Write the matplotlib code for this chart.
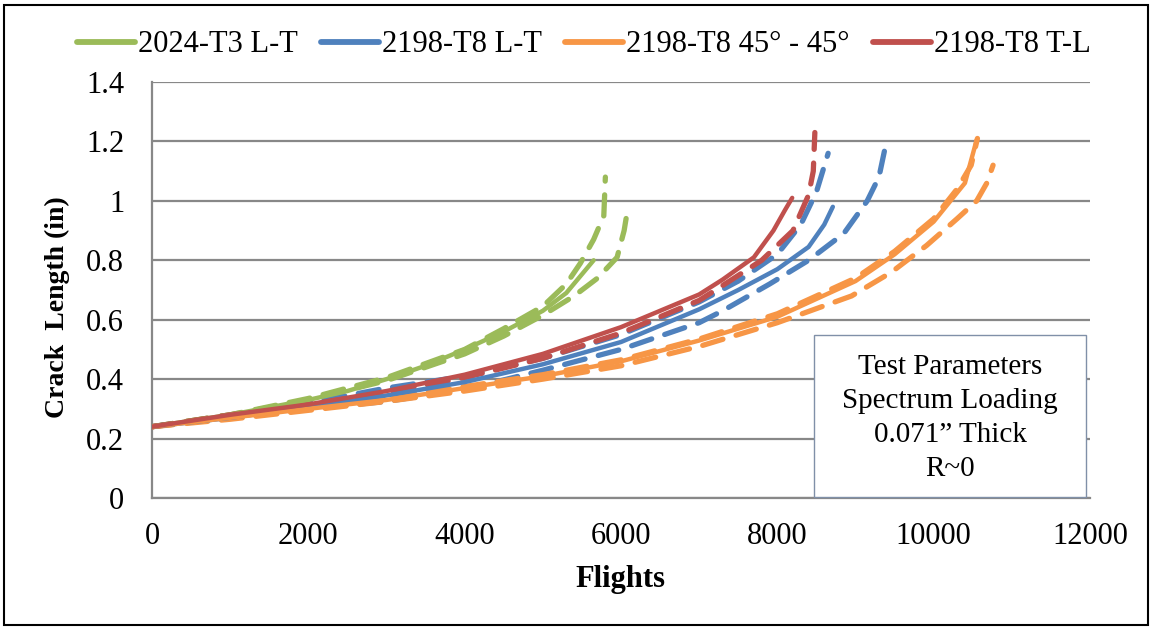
import matplotlib
matplotlib.use("Agg")
import matplotlib.pyplot as plt
from matplotlib.patches import Rectangle
from matplotlib.lines import Line2D

plt.rcParams['font.family'] = ['Liberation Serif', 'DejaVu Serif']

# ---------------- data ----------------
series_names = ["2024-T3 L-T", "2198-T8 L-T", "2198-T8 45\u00b0 - 45\u00b0", "2198-T8 T-L"]
colors = ["#9BBB59", "#4F81BD", "#F79646", "#C0504D"]

# 2024-T3 L-T
g_solid_x = [0, 500, 1000, 1500, 2000, 2500, 3000, 3500, 4000, 4500, 5000, 5300, 5650]
g_solid_y = [0.24, 0.26, 0.28, 0.305, 0.33, 0.36, 0.40, 0.445, 0.50, 0.56, 0.63, 0.69, 0.80]
g_dash1_x = [0, 1000, 2000, 3000, 4000, 4500, 5000, 5300, 5480, 5650, 5780, 5800]
g_dash1_y = [0.24, 0.28, 0.335, 0.405, 0.50, 0.57, 0.645, 0.72, 0.79, 0.87, 0.95, 1.08]
g_dash2_x = [0, 1000, 2000, 3000, 4000, 4500, 5000, 5400, 5700, 5950, 6040, 6090]
g_dash2_y = [0.24, 0.28, 0.33, 0.395, 0.485, 0.545, 0.615, 0.68, 0.74, 0.81, 0.90, 0.98]

# 2198-T8 L-T
b_solid_x = [0, 1000, 2000, 3000, 4000, 5000, 6000, 7000, 7500, 8000, 8400, 8600, 8710]
b_solid_y = [0.24, 0.27, 0.305, 0.345, 0.39, 0.45, 0.525, 0.635, 0.70, 0.77, 0.845, 0.92, 0.98]
b_dash1_x = [0, 1000, 2000, 3000, 4000, 5000, 6000, 7000, 7500, 8000, 8300, 8500, 8650]
b_dash1_y = [0.24, 0.275, 0.32, 0.37, 0.41, 0.47, 0.55, 0.66, 0.73, 0.82, 0.92, 1.03, 1.16]
b_dash2_x = [0, 1000, 2000, 3000, 4000, 5000, 6000, 7000, 7300, 7900, 8400, 8850, 9150, 9300, 9380]
b_dash2_y = [0.24, 0.27, 0.30, 0.325, 0.365, 0.43, 0.50, 0.59, 0.63, 0.72, 0.80, 0.89, 1.00, 1.08, 1.18]

# 2198-T8 45 - 45
o_solid_x = [0, 1000, 2000, 3000, 4000, 5000, 6000, 7000, 7500, 8000, 8500, 9000, 9500, 10000, 10400, 10550]
o_solid_y = [0.24, 0.27, 0.30, 0.33, 0.37, 0.41, 0.46, 0.53, 0.57, 0.61, 0.67, 0.73, 0.82, 0.93, 1.06, 1.205]
o_dash1_x = [0, 1000, 2000, 3000, 4000, 5000, 6000, 7000, 8000, 9000, 9500, 10000, 10300, 10480, 10560]
o_dash1_y = [0.24, 0.27, 0.30, 0.335, 0.375, 0.415, 0.465, 0.535, 0.62, 0.74, 0.83, 0.94, 1.04, 1.12, 1.21]
o_dash2_x = [0, 1000, 2000, 3000, 4000, 5000, 6000, 7000, 8000, 8950, 9460, 9910, 10300, 10550, 10680, 10760]
o_dash2_y = [0.24, 0.265, 0.295, 0.325, 0.36, 0.40, 0.445, 0.51, 0.59, 0.68, 0.76, 0.85, 0.94, 1.00, 1.06, 1.12]

# 2198-T8 T-L
r_solid_x = [0, 1000, 2000, 3000, 4000, 5000, 6000, 7000, 7300, 7700, 7950, 8100, 8190]
r_solid_y = [0.24, 0.28, 0.315, 0.36, 0.415, 0.485, 0.575, 0.685, 0.735, 0.81, 0.90, 0.97, 1.01]
r_dash1_x = [0, 1000, 2000, 3000, 4000, 5000, 6000, 7000, 7300, 7800, 8200, 8400, 8460, 8480]
r_dash1_y = [0.24, 0.28, 0.315, 0.355, 0.405, 0.47, 0.555, 0.665, 0.715, 0.80, 0.90, 1.02, 1.10, 1.23]

x_ticks = [0, 2000, 4000, 6000, 8000, 10000, 12000]
y_ticks = [0, 0.2, 0.4, 0.6, 0.8, 1.0, 1.2, 1.4]
y_tick_labels = ["0", "0.2", "0.4", "0.6", "0.8", "1", "1.2", "1.4"]

x_label = "Flights"
y_label = "Crack  Length (in)"
box_text = "Test Parameters\nSpectrum Loading\n0.071\u201d Thick\nR~0"

# ---------------- figure ----------------
W, H = 1153, 630
fig = plt.figure(figsize=(W / 100, H / 100), dpi=100)
ax = fig.add_axes([152 / W, 1 - 498 / H, (1090 - 152) / W, (498 - 82) / H])

grid_c = "#888888"
ax.set_xlim(0, 12000)
ax.set_ylim(0, 1.4)
ax.set_xticks(x_ticks)
ax.set_xticklabels([str(v) for v in x_ticks])
ax.set_yticks(y_ticks)
ax.set_yticklabels(y_tick_labels)
ax.tick_params(length=0, labelsize=22)
ax.tick_params(axis='x', pad=17)
ax.tick_params(axis='y', pad=20)
for s in ['top', 'right']:
    ax.spines[s].set_visible(False)
for s in ['left', 'bottom']:
    ax.spines[s].set_color(grid_c)
    ax.spines[s].set_linewidth(1.6)
ax.yaxis.grid(True, color=grid_c, linewidth=1.6)
ax.set_axisbelow(True)

lw_solid = 3.2
lw_dash = 3.8
dash = (4.0, 2.6)
dashed_sets = [
    (g_dash1_x, g_dash1_y, colors[0]), (g_dash2_x, g_dash2_y, colors[0]),
    (b_dash1_x, b_dash1_y, colors[1]), (b_dash2_x, b_dash2_y, colors[1]),
    (o_dash1_x, o_dash1_y, colors[2]), (o_dash2_x, o_dash2_y, colors[2]),
    (r_dash1_x, r_dash1_y, colors[3]),
]
for xs, ys, c in dashed_sets:
    ax.plot(xs, ys, color=c, lw=lw_dash, dashes=dash, dash_capstyle='round',
            solid_capstyle='round', zorder=3)

solid_sets = [
    (g_solid_x, g_solid_y), (b_solid_x, b_solid_y),
    (o_solid_x, o_solid_y), (r_solid_x, r_solid_y),
]
handles = []
for (xs, ys), c, name in zip(solid_sets, colors, series_names):
    ax.plot(xs, ys, color=c, lw=lw_solid, solid_capstyle='round', zorder=4)
    handles.append(Line2D([], [], color=c, lw=4.2, solid_capstyle='round'))

fig.legend(handles, series_names, loc='center', bbox_to_anchor=(584 / W, 1 - 45 / H),
           ncol=4, frameon=False, fontsize=22, handlelength=1.9, handletextpad=0.1,
           columnspacing=0.75, borderpad=0, borderaxespad=0)

fig.text(620 / W, 1 - 580 / H, x_label, ha='center', va='center',
         fontsize=22, fontweight='bold')
fig.text(57 / W, 1 - 307 / H, y_label, ha='center', va='center', rotation=90,
         fontsize=20, fontweight='bold')

# text box
fig.patches.append(Rectangle((814 / W, 1 - 497 / H), (1086 - 814) / W, (497 - 335) / H,
                             transform=fig.transFigure, facecolor='white',
                             edgecolor='#8090A8', linewidth=1.0, zorder=5))
fig.text(950 / W, 1 - 418 / H, box_text, ha='center', va='center', fontsize=21,
         linespacing=1.4, zorder=6)

# outer frame
fig.patches.append(Rectangle((4 / W, 5 / H), (1148 - 4) / W, (625 - 5) / H,
                             transform=fig.transFigure, facecolor='none',
                             edgecolor='black', linewidth=1.5, zorder=10))

fig.savefig("out.png", dpi=100)
